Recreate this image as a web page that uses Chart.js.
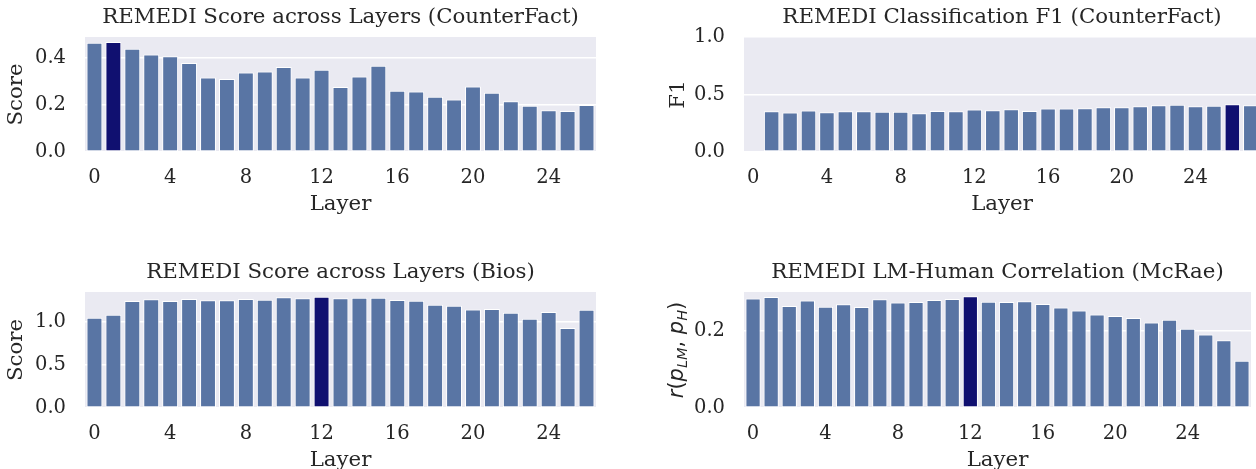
<!DOCTYPE html>
<html>
<head>
<meta charset="utf-8">
<title>REMEDI across layers</title>
<script src="https://cdn.jsdelivr.net/npm/chart.js@4.4.0/dist/chart.umd.min.js"></script>
<style>
  html, body { margin: 0; padding: 0; background: #fff; overflow: hidden; }
  body { width: 1256px; height: 469px; position: relative; }
  .panel { position: absolute; }
</style>
</head>
<body>
<div class="panel" style="left:0px; top:0px; width:596px; height:222px;"><canvas id="chart-cf"></canvas></div>
<div class="panel" style="left:659px; top:0px; width:601px; height:222px;"><canvas id="chart-f1"></canvas></div>
<div class="panel" style="left:0px; top:255px; width:596px; height:223px;"><canvas id="chart-bios"></canvas></div>
<div class="panel" style="left:659px; top:255px; width:592px; height:223px;"><canvas id="chart-mcrae"></canvas></div>

<script>
'use strict';

let layers = [0, 1, 2, 3, 4, 5, 6, 7, 8, 9, 10, 11, 12, 13, 14, 15, 16, 17, 18, 19, 20, 21, 22, 23, 24, 25, 26, 27];

let cfScore = [0.463, 0.467, 0.438, 0.414, 0.406, 0.378, 0.316, 0.310, 0.337, 0.342, 0.361, 0.316, 0.349, 0.276,
  0.320, 0.366, 0.260, 0.257, 0.234, 0.223, 0.278, 0.251, 0.215, 0.196, 0.177, 0.174, 0.199];
let f1Score = [0, 0.354, 0.343, 0.360, 0.346, 0.354, 0.354, 0.349, 0.349, 0.337, 0.357, 0.354, 0.369, 0.363,
  0.372, 0.357, 0.378, 0.378, 0.380, 0.389, 0.389, 0.398, 0.406, 0.411, 0.398, 0.401, 0.415, 0.406];
let biosScore = [1.047, 1.081, 1.240, 1.260, 1.240, 1.264, 1.248, 1.248, 1.264, 1.256, 1.284, 1.271, 1.290, 1.271,
  1.279, 1.279, 1.252, 1.244, 1.198, 1.186, 1.143, 1.147, 1.105, 1.035, 1.112, 0.926, 1.140];
let mcraeCorr = [0.283, 0.287, 0.264, 0.278, 0.262, 0.268, 0.261, 0.281, 0.273, 0.274, 0.279, 0.282, 0.289, 0.275,
  0.274, 0.276, 0.269, 0.260, 0.252, 0.242, 0.238, 0.233, 0.221, 0.228, 0.205, 0.190, 0.175, 0.122];

let cfBest = 1;
let f1Best = 26;
let biosBest = 12;
let mcraeBest = 12;

let cfTicks = [0, 0.2, 0.4];
let f1Ticks = [0, 0.5, 1.0];
let biosTicks = [0, 0.5, 1.0];
let mcraeTicks = [0, 0.2];

let cfMax = 0.488;
let f1Max = 1.0;
let biosMax = 1.345;
let mcraeMax = 0.300;

let barColor = '#5975a4';
let bestColor = '#101070';
let textColor = '#262626';
let fontFamily = '"DejaVu Serif", serif';

let bgPlugin = {
  id: 'bg',
  beforeDraw(chart) {
    let a = chart.chartArea;
    let ctx = chart.ctx;
    ctx.save();
    ctx.fillStyle = '#eaeaf2';
    ctx.fillRect(a.left, a.top, a.right - a.left, a.bottom - a.top);
    ctx.restore();
  }
};

// r(p_LM, p_H) label, drawn by hand because of the subscripts
let mathLabelPlugin = {
  id: 'mathLabel',
  afterDraw(chart) {
    let a = chart.chartArea;
    let ctx = chart.ctx;
    let big = 'italic 21px "DejaVu Sans"';
    let up = '21px "DejaVu Sans"';
    let small = 'italic 14.5px "DejaVu Sans"';
    let parts = [
      { t: 'r', f: big, dy: 0 },
      { t: '(', f: up, dy: 0 },
      { t: 'p', f: big, dy: 0 },
      { t: 'LM', f: small, dy: 5 },
      { t: ', ', f: up, dy: 0 },
      { t: 'p', f: big, dy: 0 },
      { t: 'H', f: small, dy: 5 },
      { t: ')', f: up, dy: 0 }
    ];
    ctx.save();
    let total = 0;
    for (let i = 0; i < parts.length; i++) {
      ctx.font = parts[i].f;
      parts[i].w = ctx.measureText(parts[i].t).width;
      total += parts[i].w;
    }
    ctx.translate(a.left - 66, (a.top + a.bottom) / 2);
    ctx.rotate(-Math.PI / 2);
    ctx.fillStyle = textColor;
    ctx.textBaseline = 'middle';
    let x = -total / 2;
    for (let i = 0; i < parts.length; i++) {
      ctx.font = parts[i].f;
      ctx.fillText(parts[i].t, x, parts[i].dy);
      x += parts[i].w;
    }
    ctx.restore();
  }
};

function makePanel(canvasId, title, yTitle, values, best, yTicks, yMax, yTitlePad, extraPlugins) {
  let labels = layers.slice(0, values.length).map(String);
  let colors = [];
  for (let i = 0; i < values.length; i++) {
    colors.push(i === best ? bestColor : barColor);
  }

  let tickFont = { family: fontFamily, size: 19.5, lineHeight: 1.2 };
  let labelFont = { family: fontFamily, size: 21.3, lineHeight: 1.2, weight: 'normal' };

  return new Chart(document.getElementById(canvasId), {
    type: 'bar',
    data: {
      labels: labels,
      datasets: [{
        data: values,
        backgroundColor: colors,
        borderColor: '#ffffff',
        borderWidth: 1,
        borderSkipped: false,
        barPercentage: 0.84,
        categoryPercentage: 1.0
      }]
    },
    options: {
      responsive: true,
      maintainAspectRatio: false,
      animation: false,
      layout: { padding: 0 },
      plugins: {
        legend: { display: false },
        tooltip: { enabled: false },
        title: {
          display: true,
          text: title,
          color: textColor,
          font: labelFont,
          fullSize: false,
          padding: { top: 4.2, bottom: 7.2 }
        }
      },
      scales: {
        x: {
          offset: true,
          grid: { display: false, drawTicks: false },
          border: { display: false },
          ticks: {
            autoSkip: false,
            maxRotation: 0,
            padding: 14.3,
            color: textColor,
            font: tickFont,
            callback: function (value, index) {
              return index % 4 === 0 ? this.getLabelForValue(value) : '';
            }
          },
          title: {
            display: true,
            text: 'Layer',
            color: textColor,
            font: labelFont,
            padding: { top: 0, bottom: 5.2 }
          },
          afterFit(scale) {
            scale.height = 70;
            scale.paddingLeft = 0;
            scale.paddingRight = 0;
          }
        },
        y: {
          min: 0,
          max: yMax,
          grid: { color: '#ffffff', lineWidth: 1.5, drawTicks: false },
          border: { display: false },
          ticks: {
            padding: 19,
            color: textColor,
            font: tickFont,
            callback: function (value) { return value.toFixed(1); }
          },
          title: {
            display: yTitle !== '',
            text: yTitle,
            color: textColor,
            font: labelFont,
            padding: { top: yTitlePad, bottom: 0 }
          },
          afterBuildTicks(scale) {
            scale.ticks = yTicks.map(function (v) { return { value: v }; });
          },
          afterFit(scale) { scale.width = 85; }
        }
      }
    },
    plugins: [bgPlugin].concat(extraPlugins || [])
  });
}

makePanel('chart-cf', 'REMEDI Score across Layers (CounterFact)', 'Score', cfScore, cfBest, cfTicks, cfMax, 3.2);
makePanel('chart-f1', 'REMEDI Classification F1 (CounterFact)', 'F1', f1Score, f1Best, f1Ticks, f1Max, 6.2);
makePanel('chart-bios', 'REMEDI Score across Layers (Bios)', 'Score', biosScore, biosBest, biosTicks, biosMax, 3.2);
makePanel('chart-mcrae', 'REMEDI LM-Human Correlation (McRae)', '', mcraeCorr, mcraeBest, mcraeTicks, mcraeMax, 6.2, [mathLabelPlugin]);
</script>
</body>
</html>
